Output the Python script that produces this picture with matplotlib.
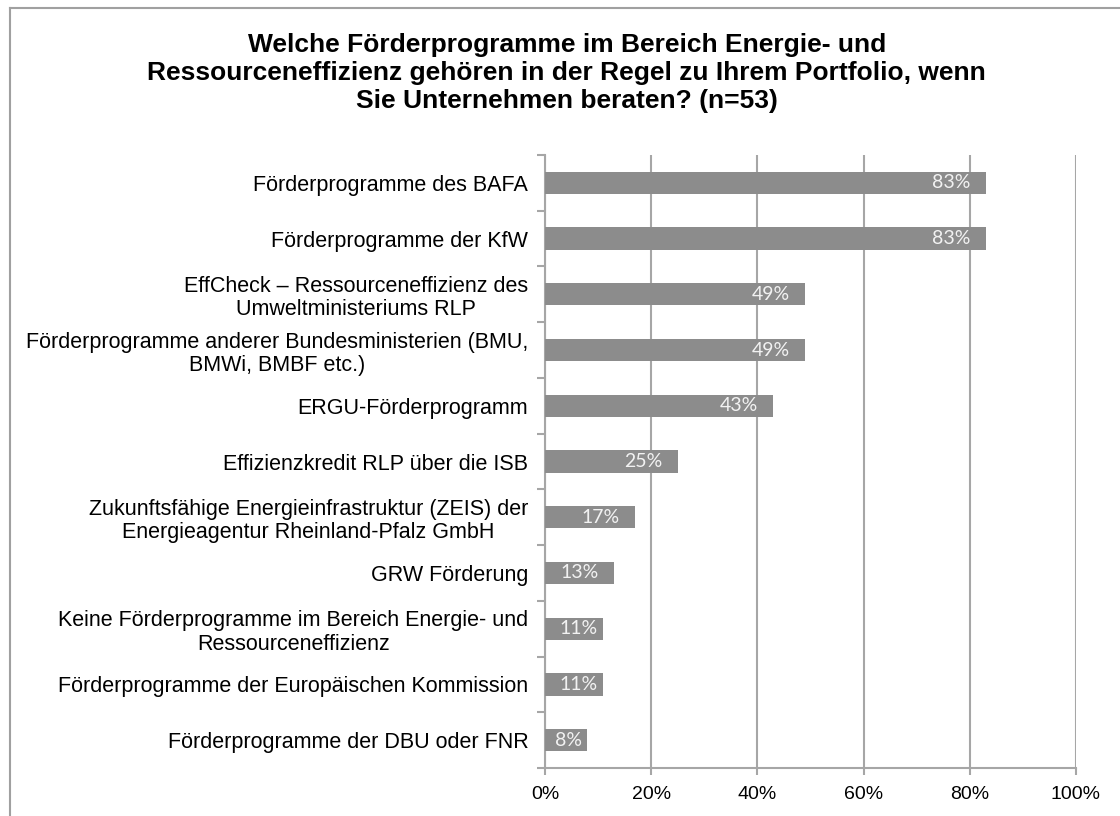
import matplotlib.pyplot as plt
from matplotlib.lines import Line2D
import numpy as np

# Daten (von oben nach unten)
kategorien = [
    "Förderprogramme des BAFA",
    "Förderprogramme der KfW",
    "EffCheck – Ressourceneffizienz des\nUmweltministeriums RLP",
    "Förderprogramme anderer Bundesministerien (BMU,\nBMWi, BMBF etc.)",
    "ERGU-Förderprogramm",
    "Effizienzkredit RLP über die ISB",
    "Zukunftsfähige Energieinfrastruktur (ZEIS) der\nEnergieagentur Rheinland-Pfalz GmbH",
    "GRW Förderung",
    "Keine Förderprogramme im Bereich Energie- und\nRessourceneffizienz",
    "Förderprogramme der Europäischen Kommission",
    "Förderprogramme der DBU oder FNR",
]
anteile = [83, 83, 49, 49, 43, 25, 17, 13, 11, 11, 8]
x_ticks = [0, 20, 40, 60, 80, 100]
titel = ("Welche Förderprogramme im Bereich Energie- und\n"
         "Ressourceneffizienz gehören in der Regel zu Ihrem Portfolio, wenn\n"
         "Sie Unternehmen beraten? (n=53)")

plt.rcParams['font.family'] = ['Liberation Sans', 'DejaVu Sans']

fig = plt.figure(figsize=(11.2, 8.16), dpi=100, facecolor='white')
ax = fig.add_axes([545 / 1120, 1 - 768 / 816, (1076 - 545) / 1120, (768 - 155) / 816])

grau = '#8c8c8c'
linie = '#a6a6a6'
n = len(kategorien)
y = np.arange(n)

ax.barh(y, anteile, height=0.4, color=grau, zorder=3)
ax.set_xlim(0, 100)
ax.set_ylim(n - 0.5, -0.5)

# Wertebeschriftung in den Balken (bei kurzen Balken näher ans Ende)
for yi, v in zip(y, anteile):
    versatz = -11 if v > 12 else -4
    ax.annotate(f"{v}%", xy=(v, yi), xytext=(versatz, 0), textcoords='offset points',
                ha='right', va='center', color='#f2f2f2', fontsize=14,
                family=['Lato', 'DejaVu Sans'], zorder=4)

# Achsen & Gitter
ax.set_xticks(x_ticks)
ax.set_xticklabels([f"{t}%" for t in x_ticks], fontsize=14)
ax.xaxis.grid(True, color=linie, linewidth=1.5, zorder=0)
ax.yaxis.grid(False)
ax.tick_params(axis='x', length=5, width=1.5, color=linie, pad=8)

ax.set_yticks(y)
ax.set_yticklabels(kategorien, fontsize=15.5, multialignment='center', linespacing=1.15)
ax.set_yticks(np.arange(n + 1) - 0.5, minor=True)
ax.tick_params(axis='y', which='major', length=0, pad=12)
ax.tick_params(axis='y', which='minor', length=6, width=1.5, color=linie)

for s in ['top', 'right']:
    ax.spines[s].set_visible(False)
for s in ['left', 'bottom']:
    ax.spines[s].set_color(linie)
    ax.spines[s].set_linewidth(1.5)

fig.text(0.506, 1 - 73 / 816, titel, ha='center', va='center', fontsize=19,
         fontweight='bold', linespacing=1.2)

# Rahmen (links und oben)
rahmen = '#a0a0a0'
fig.add_artist(Line2D([10 / 1120, 10 / 1120], [0, 1 - 8 / 816], color=rahmen, lw=1.5,
                      transform=fig.transFigure))
fig.add_artist(Line2D([10 / 1120, 1], [1 - 8 / 816, 1 - 8 / 816], color=rahmen,
                      lw=1.5, transform=fig.transFigure))

fig.savefig("out.png", dpi=100, facecolor='white')
